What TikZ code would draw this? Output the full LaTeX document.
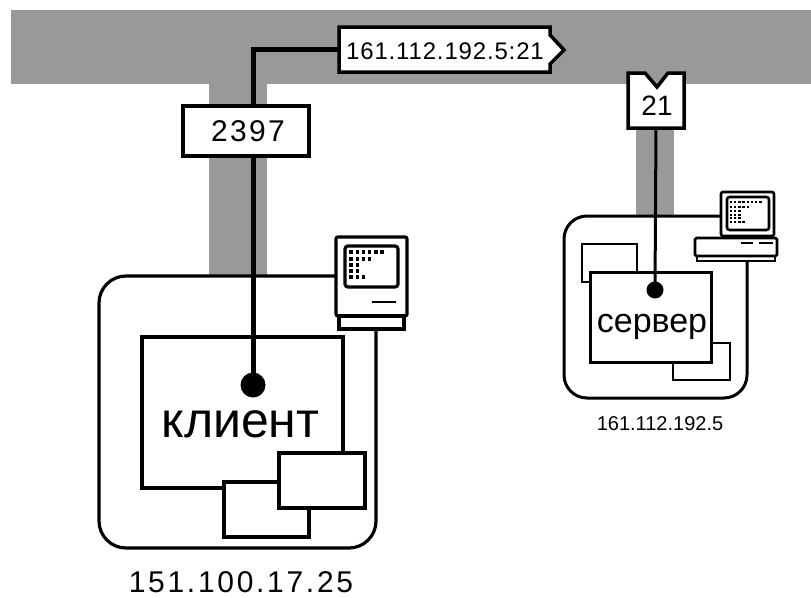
\documentclass[tikz,border=0pt]{standalone}
\usepackage{fontspec}
\setmainfont{Liberation Sans}
\definecolor{band}{HTML}{98999B}
\tikzset{
  box/.style={draw=black,fill=white,line width=#1,inner sep=0pt,outer sep=0pt,sharp corners},
  box/.default=3.5pt,
  lbl/.style={inner sep=0pt,outer sep=0pt,anchor=base,text=black},
  dotn/.style={circle,fill=black,draw=none,inner sep=0pt,outer sep=0pt,minimum size=#1},
  pix/.style={fill=black,draw=none},
  conn/.style={draw=black,line width=#1,line join=miter}
}
\begin{document}
\begin{tikzpicture}[x=1pt,y=-1pt]
\useasboundingbox (0,0) rectangle (811,597);
\fill[white] (0,0) rectangle (811,597);
% grey bands
\fill[band] (11,10) rectangle (811,84);
\fill[band] (209,84) rectangle (267,276);
\fill[band] (636,128) rectangle (674,216);
% client host
\draw[draw=black,line width=3.2pt,rounded corners=27pt] (335,276) -- (99,276) -- (99,548) -- (376,548) -- (376,330);
\node[box,minimum width=201pt,minimum height=151pt] (cproc) at (242.5,412.5) {};
\node[box,minimum width=85pt,minimum height=55pt] (cwinb) at (266.5,509.5) {};
\node[box,minimum width=86pt,minimum height=55pt] (cwina) at (322,480.5) {};
\node[lbl,font=\fontsize{50}{50}\selectfont] (ctext) at (240.5,437) {клиент};
\node[dotn=25pt] (cdot) at (253,385) {};
% client computer
\draw[box=3.2pt,rounded corners=2pt] (336,237) rectangle (407,316);
\node[box=3.2pt,minimum width=65pt,minimum height=13pt] (cbase) at (371.5,322.5) {};
\draw[draw=black,line width=3.2pt,rounded corners=3pt] (345,246) rectangle (398,287);
\draw[draw=black,line width=2.6pt] (372,302) -- (396,302);
\foreach \y/\n in {252/6,259/4,265/2,271/2,277/3}{
  \foreach \i in {1,...,\n}{
    \fill[pix] ({351+(\i-1)*6.2-1.7},\y-1.7) rectangle +(3.4,3.4);
  }
}
% connector to the client tag
\node[inner sep=0pt,outer sep=0pt,minimum width=211pt,minimum height=45pt] (ctag) at (444.5,49.5) {};
\draw[conn=5pt] (cdot.center) |- (ctag.west);
\node[box=4pt,minimum width=126pt,minimum height=50pt] (cport) at (246,131) {};
\node[lbl,font=\fontsize{30}{30}\selectfont\addfontfeatures{LetterSpace=8}] (cportt) at (248,141) {2397};
\draw[box=3.5pt,miter limit=10] (339,27) -- (550,27) -- (550,35) -- (564,50) -- (550,64) -- (550,72) -- (339,72) -- cycle;
\node[lbl,font=\fontsize{24}{24}\selectfont\addfontfeatures{LetterSpace=3.5}] (ctagt) at (445,59) {161.112.192.5:21};
\node[lbl,font=\fontsize{30}{30}\selectfont\addfontfeatures{LetterSpace=9}] (caddr) at (241,592) {151.100.17.25};
% server host
\draw[draw=black,line width=3pt,rounded corners=23pt] (722,216) -- (564,216) -- (564,398) -- (747,398) -- (747,260);
\node[box=2.8pt,minimum width=55pt,minimum height=38pt] (swina) at (609.5,263) {};
\node[box=2.8pt,minimum width=57pt,minimum height=37pt] (swinb) at (701.5,361.5) {};
\node[box=3pt,minimum width=121pt,minimum height=90pt] (sproc) at (650.5,317) {};
\node[lbl,font=\fontsize{34}{34}\selectfont] (stext) at (652,332) {сервер};
\node[dotn=17pt] (sdot) at (655,290) {};
% server computer
\draw[box=2.6pt,rounded corners=2pt] (721,192) rectangle (774,236);
\draw[draw=black,line width=2.4pt] (726,236) -- (726,238) (769,236) -- (769,238);
\node[box=2.6pt,minimum width=78pt,minimum height=5pt] (sbaseb) at (736,258.5) {};
\draw[box=2.6pt,rounded corners=1.5pt] (695,238) rectangle (777,256);
\draw[draw=black,line width=2.6pt,rounded corners=2.5pt] (727,197) rectangle (769,230);
\draw[draw=black,line width=2pt] (741,243) -- (753,243) (759,243) -- (773,243);
\foreach \y/\n in {202/8,207/5,211/3,215/3,218/3,222/4}{
  \foreach \i in {1,...,\n}{
    \fill[pix] ({731+(\i-1)*4.2-1.2},\y-1.2) rectangle +(2.4,2.4);
  }
}
% server tag
\node[inner sep=0pt,outer sep=0pt,minimum width=56pt,minimum height=55pt] (stag) at (656,100.5) {};
\draw[conn=3pt] (stag.south) -- (sdot.center);
\draw[box=3.5pt] (628,73) -- (645,73) -- (657,87) -- (668,73) -- (684,73) -- (684,128) -- (628,128) -- cycle;
\node[lbl,font=\fontsize{28}{28}\selectfont] (stagt) at (657,115) {21};
\node[lbl,font=\fontsize{20}{20}\selectfont] (saddr) at (660,430) {161.112.192.5};
\end{tikzpicture}
\end{document}
